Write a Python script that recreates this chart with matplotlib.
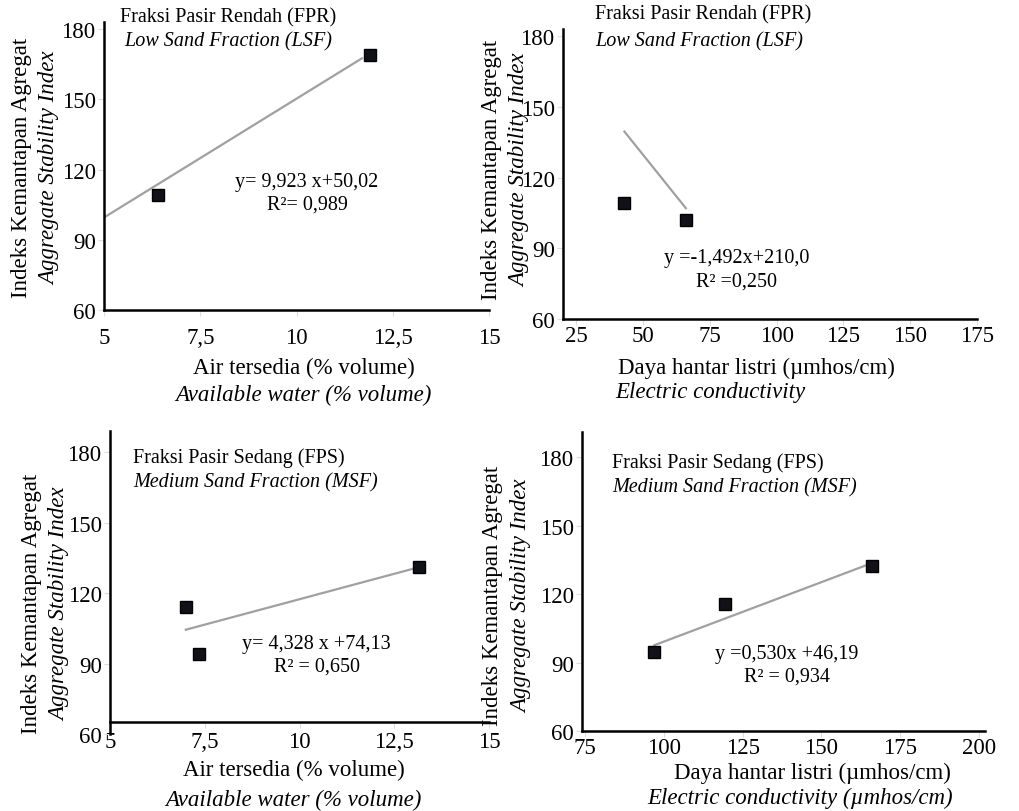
import matplotlib.pyplot as plt

plt.rcParams['font.family'] = ['Liberation Serif', 'DejaVu Serif']

# top-left: low sand fraction vs available water
fpr_aw_x = [6.4, 11.9]
fpr_aw_y = [109, 169]
fpr_aw_fit_x = [5.0, 11.7]
fpr_aw_fit_y = [99.5, 167.5]

# top-right: low sand fraction vs electric conductivity
fpr_ec_x = [43, 66]
fpr_ec_y = [109, 102]
fpr_ec_fit_x = [43, 66]
fpr_ec_fit_y = [139.5, 107]

# bottom-left: medium sand fraction vs available water
fps_aw_x = [7.0, 7.35, 13.15]
fps_aw_y = [114, 94, 131]
fps_aw_fit_x = [7.0, 13.1]
fps_aw_fit_y = [104.4, 130.8]

# bottom-right: medium sand fraction vs electric conductivity
fps_ec_x = [97, 119.5, 166]
fps_ec_y = [94.5, 115.5, 132.5]
fps_ec_fit_x = [97, 165]
fps_ec_fit_y = [97.6, 133.0]

aw_ticks = [5, 7.5, 10, 12.5, 15]
aw_labels = ['5', '7,5', '10', '12,5', '15']
ec_ticks_top = [25, 50, 75, 100, 125, 150, 175]
ec_ticks_bot = [75, 100, 125, 150, 175, 200]
y_ticks = [60, 90, 120, 150, 180]

W, H = 1020, 812
fig = plt.figure(figsize=(W / 100, H / 100), dpi=100)


def box(x0, x1, y0, y1):
    # pixel box -> figure fraction
    return [x0 / W, 1 - y1 / H, (x1 - x0) / W, (y1 - y0) / H]


def ftext(x, y, s, **kw):
    fig.text(x / W, 1 - y / H, s, **kw)


def panel(rect, px, py, fx, fy, xlim, ylim, xticks, xlabels, xpad):
    ax = fig.add_axes(rect)
    ax.plot(fx, fy, color='#a0a0a0', lw=1.6, zorder=2)
    ax.plot(px, py, 's', color='#111118', ms=8, mec='#000000', zorder=3)
    ax.set_xlim(xlim)
    ax.set_ylim(ylim)
    ax.set_xticks(xticks)
    ax.set_xticklabels(xlabels)
    ax.set_yticks(y_ticks)
    for s in ['top', 'right']:
        ax.spines[s].set_visible(False)
    for s in ['left', 'bottom']:
        ax.spines[s].set_linewidth(1.8)
    ax.tick_params(labelsize=16.5, length=4, color='#dddddd', pad=2)
    ax.tick_params(axis='x', pad=xpad)
    return ax


ax1 = panel(box(104, 489, 23, 311), fpr_aw_x, fpr_aw_y, fpr_aw_fit_x, fpr_aw_fit_y,
            (5, 15), (60, 183), aw_ticks, aw_labels, 8)
ax2 = panel(box(563, 977, 30, 320), fpr_ec_x, fpr_ec_y, fpr_ec_fit_x, fpr_ec_fit_y,
            (20, 175), (60, 183), ec_ticks_top, [str(t) for t in ec_ticks_top], 0)
ax3 = panel(box(110, 489, 432, 735), fps_aw_x, fps_aw_y, fps_aw_fit_x, fps_aw_fit_y,
            (5, 15), (60, 189), aw_ticks, aw_labels, 2)
ax3.spines['bottom'].set_position(('data', 65))
ax4 = panel(box(582, 985, 433, 732), fps_ec_x, fps_ec_y, fps_ec_fit_x, fps_ec_fit_y,
            (74, 202), (60, 191), ec_ticks_bot, [str(t) for t in ec_ticks_bot], 0)

# y-axis titles
for x1, x2, yc in [(22, 50, 168), (492, 520, 170), (32, 60, 604), (493, 522, 596)]:
    ftext(x1, yc, 'Indeks Kemantapan Agregat', rotation=90, ha='center', va='center', fontsize=16.5)
    ftext(x2, yc, 'Aggregate Stability Index', rotation=90, ha='center', va='center',
          fontsize=16.5, style='italic')

# x-axis titles
ftext(304, 368, 'Air tersedia (% volume)', ha='center', va='center', fontsize=16.5)
ftext(303, 395, 'Available water (% volume)', ha='center', va='center', fontsize=16.5, style='italic')
ftext(756, 368, 'Daya hantar listri (µmhos/cm)', ha='center', va='center', fontsize=16.5)
ftext(710, 393, 'Electric conductivity', ha='center', va='center', fontsize=16.5, style='italic')
ftext(294, 770, 'Air tersedia (% volume)', ha='center', va='center', fontsize=16.5)
ftext(293, 800, 'Available water (% volume)', ha='center', va='center', fontsize=16.5, style='italic')
ftext(812, 773, 'Daya hantar listri (µmhos/cm)', ha='center', va='center', fontsize=16.5)
ftext(800, 798, 'Electric conductivity (µmhos/cm)', ha='center', va='center', fontsize=16.5, style='italic')

# panel headings
ftext(120, 18, 'Fraksi Pasir Rendah (FPR)', va='center', fontsize=14.5)
ftext(124, 42, 'Low Sand Fraction (LSF)', va='center', fontsize=14.5, style='italic')
ftext(595, 15, 'Fraksi Pasir Rendah (FPR)', va='center', fontsize=14.5)
ftext(595, 42, 'Low Sand Fraction (LSF)', va='center', fontsize=14.5, style='italic')
ftext(133, 458, 'Fraksi Pasir Sedang (FPS)', va='center', fontsize=14.5)
ftext(133, 483, 'Medium Sand Fraction (MSF)', va='center', fontsize=14.5, style='italic')
ftext(612, 463, 'Fraksi Pasir Sedang (FPS)', va='center', fontsize=14.5)
ftext(612, 488, 'Medium Sand Fraction (MSF)', va='center', fontsize=14.5, style='italic')

# regression equations
ftext(307, 183, 'y= 9,923 x+50,02', ha='center', va='center', fontsize=14.5)
ftext(307, 205, 'R²= 0,989', ha='center', va='center', fontsize=14.5)
ftext(737, 258, 'y =-1,492x+210,0', ha='center', va='center', fontsize=14.5)
ftext(737, 282, 'R² =0,250', ha='center', va='center', fontsize=14.5)
ftext(316, 645, 'y= 4,328 x +74,13', ha='center', va='center', fontsize=14.5)
ftext(317, 667, 'R² = 0,650', ha='center', va='center', fontsize=14.5)
ftext(787, 655, 'y =0,530x +46,19', ha='center', va='center', fontsize=14.5)
ftext(787, 677, 'R² = 0,934', ha='center', va='center', fontsize=14.5)

fig.savefig('out.png', dpi=100)
